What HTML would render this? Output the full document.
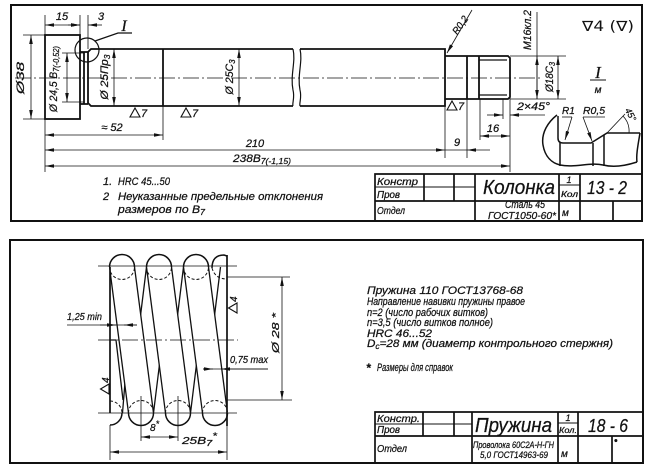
<!DOCTYPE html>
<html><head><meta charset="utf-8">
<style>
html,body{margin:0;padding:0;background:#fff;}
svg{display:block;}
text{font-family:"Liberation Sans",sans-serif;font-style:italic;fill:#111;stroke:#111;stroke-width:0.25;}
</style></head><body>
<svg width="652" height="470" viewBox="0 0 652 470" xmlns="http://www.w3.org/2000/svg">
<defs>
<marker id="a" viewBox="0 0 10 4" refX="10" refY="2" markerWidth="9" markerHeight="3.6" markerUnits="userSpaceOnUse" orient="auto-start-reverse"><path d="M0,0L10,2L0,4z" fill="#111"/></marker>
<clipPath id="sc"><rect x="110" y="250" width="117" height="180"/></clipPath>
</defs>
<rect width="652" height="470" fill="#fff"/>

<!-- frames -->
<g fill="none" stroke="#111" stroke-width="2">
<rect x="11" y="5" width="631" height="216"/>
<rect x="10" y="240" width="633" height="223"/>
</g>

<!-- ===== SHAFT ===== -->
<g fill="none" stroke="#111" stroke-width="1.8">
<rect x="45" y="35" width="35" height="84"/>
<path d="M80,52H88M80,104H88M84,52V104M88,52V104"/>
<path d="M88,52L91,49H293M300,49H445V106H300M293,106H91L88,103"/>
<path d="M445,56H508L510,58V97L508,99H445M467,56V99M479,56V99"/>
<path d="M163,49V106"/>
</g>
<g fill="none" stroke="#111" stroke-width="1.2">
<path d="M293,49C296,62 290,75 293,90C295,98 292,103 293,106"/>
<path d="M300,49C303,62 297,75 300,90C302,98 299,103 300,106"/>
<path d="M479,60H507M479,95H507"/>
<circle cx="87" cy="50" r="12"/>
<path d="M95,41L118,33H132"/>
</g>
<line x1="15" y1="78" x2="540" y2="78" stroke="#111" stroke-width="0.8" stroke-dasharray="16,3,2,3"/>

<!-- dims top -->
<g fill="none" stroke="#111" stroke-width="0.8">
<path d="M23,35H45M23,119H45M45,15V35M45,119V172M80,15V35M88,15V49M62,53H84M62,102H84"/>
<path d="M163,106V140M445,106V158M467,99V158M510,97V172M480,99V140M503,99V119M510,56H566M510,99H566M445,150H467M537,12V99"/>
<line x1="31" y1="35" x2="31" y2="119" marker-start="url(#a)" marker-end="url(#a)"/>
<line x1="45" y1="25" x2="80" y2="25" marker-start="url(#a)" marker-end="url(#a)"/>
<line x1="68" y1="25" x2="80" y2="25" marker-end="url(#a)"/>
<line x1="102" y1="25" x2="88" y2="25" marker-end="url(#a)"/>
<line x1="67" y1="53" x2="67" y2="102" marker-start="url(#a)" marker-end="url(#a)"/>
<line x1="114" y1="49" x2="114" y2="106" marker-start="url(#a)" marker-end="url(#a)"/>
<line x1="239" y1="49" x2="239" y2="106" marker-start="url(#a)" marker-end="url(#a)"/>
<line x1="45" y1="135" x2="163" y2="135" marker-start="url(#a)" marker-end="url(#a)"/>
<line x1="45" y1="150" x2="445" y2="150" marker-start="url(#a)" marker-end="url(#a)"/>
<line x1="490" y1="150" x2="467" y2="150" marker-end="url(#a)"/>
<line x1="45" y1="166" x2="510" y2="166" marker-start="url(#a)" marker-end="url(#a)"/>
<line x1="480" y1="136" x2="510" y2="136" marker-start="url(#a)" marker-end="url(#a)"/>
<line x1="487" y1="115" x2="503" y2="115" marker-end="url(#a)"/>
<line x1="545" y1="115" x2="510" y2="115" marker-end="url(#a)"/>
<line x1="472" y1="10" x2="447" y2="53" marker-end="url(#a)"/>
<line x1="537" y1="77" x2="537" y2="56" marker-end="url(#a)"/>
<line x1="537" y1="77" x2="537" y2="99" marker-end="url(#a)"/>
<line x1="558" y1="56" x2="558" y2="99" marker-start="url(#a)" marker-end="url(#a)"/>
</g>

<!-- surface marks -->
<g fill="none" stroke="#111" stroke-width="1.1">
<path d="M130,117H140L135,108Z"/>
<path d="M181,117H191L186,108Z"/>
<path d="M447,110H457L452,101Z"/>
</g>
<g font-size="11">
<text x="141" y="117">7</text>
<text x="192" y="117">7</text>
<text x="458" y="110">7</text>
</g>

<!-- top texts -->
<g font-size="11">
<text x="62" y="20" text-anchor="middle">15</text>
<text x="101" y="20" text-anchor="middle">3</text>
<text transform="translate(24,78) rotate(-90)" text-anchor="middle" textLength="32" lengthAdjust="spacingAndGlyphs">Ø38</text>
<text transform="translate(57,79) rotate(-90)" text-anchor="middle" textLength="66" lengthAdjust="spacingAndGlyphs">Ø 24,5 B<tspan font-size="8" dy="2">7(-0,52)</tspan></text>
<text transform="translate(108,77) rotate(-90)" text-anchor="middle" textLength="45" lengthAdjust="spacingAndGlyphs">Ø 25Пр<tspan font-size="8" dy="2">3</tspan></text>
<text transform="translate(233,77) rotate(-90)" text-anchor="middle" textLength="35" lengthAdjust="spacingAndGlyphs">Ø 25С<tspan font-size="8" dy="2">3</tspan></text>
<text transform="translate(531,30) rotate(-90)" text-anchor="middle" textLength="40" lengthAdjust="spacingAndGlyphs">M16кл.2</text>
<text transform="translate(553,77) rotate(-90)" text-anchor="middle" textLength="30" lengthAdjust="spacingAndGlyphs">Ø18С<tspan font-size="8" dy="2">3</tspan></text>
<text transform="translate(463,27) rotate(-55)" text-anchor="middle" font-size="10" textLength="20" lengthAdjust="spacingAndGlyphs">R0,2</text>
<text x="112" y="131" text-anchor="middle">≈ 52</text>
<text x="255" y="147" text-anchor="middle">210</text>
<text x="233" y="162" textLength="58" lengthAdjust="spacingAndGlyphs">238B<tspan font-size="8" dy="2">7(-1,15)</tspan></text>
<text x="457" y="146" text-anchor="middle">9</text>
<text x="493" y="132" text-anchor="middle">16</text>
<text x="517" y="110" textLength="33" lengthAdjust="spacingAndGlyphs">2×45°</text>
</g>
<text x="124" y="31" font-size="16" text-anchor="middle" style="font-family:'Liberation Serif',serif">I</text>
<text x="582" y="31" font-size="14" textLength="52" lengthAdjust="spacingAndGlyphs" style="font-family:'DejaVu Sans',sans-serif;font-style:normal;stroke-width:0">∇4 (∇)</text>
<text x="598" y="78" font-size="17" text-anchor="middle" style="font-family:'Liberation Serif',serif">I</text>
<line x1="590" y1="80" x2="606" y2="80" stroke="#111" stroke-width="1"/>
<text x="598" y="93" font-size="10" text-anchor="middle">м</text>

<!-- detail I -->
<g fill="none" stroke="#111" stroke-width="1.5">
<path d="M557,115C548,122 541,133 543,145C545,157 552,163 560,165C575,168 590,162 603,165C615,168 628,165 637,162"/>
<path d="M640,133C638,145 636,155 637,162"/>
<path d="M558,116V138Q558,143 563,143H591L607,133H640"/>
<path d="M560,143V166M593,143V166M604,135V166"/>
</g>
<g fill="none" stroke="#111" stroke-width="0.8">
<path d="M562,117H572"/>
<line x1="572" y1="117" x2="565" y2="140" marker-end="url(#a)"/>
<path d="M583,117H605"/>
<line x1="583" y1="117" x2="592" y2="141" marker-end="url(#a)"/>
<path d="M607,133L625,114"/>
<path d="M623,116A22,22 0 0 1 629,133"/>
</g>
<text x="562" y="114" font-size="10">R1</text>
<text x="583" y="114" font-size="10" textLength="22" lengthAdjust="spacingAndGlyphs">R0,5</text>
<text transform="translate(628,116) rotate(62)" font-size="9" text-anchor="middle">45°</text>

<!-- notes top -->
<g font-size="11">
<text x="103" y="185">1.</text>
<text x="118" y="185" textLength="52" lengthAdjust="spacingAndGlyphs">HRC 45...50</text>
<text x="103" y="200">2</text>
<text x="118" y="200" textLength="205" lengthAdjust="spacingAndGlyphs">Неуказанные предельные отклонения</text>
<text x="118" y="213" textLength="87" lengthAdjust="spacingAndGlyphs">размеров по B<tspan font-size="8" dy="2">7</tspan></text>
</g>

<!-- title block top -->
<g fill="none" stroke="#111" stroke-width="1.7">
<path d="M375,221V174H642M375,201H642M424,174V201M454,174V201M475,174V221M559,174V221M580,174V221M613,201V221"/>
</g>
<g fill="none" stroke="#111" stroke-width="1">
<path d="M375,187H475M559,185H580"/>
</g>
<text x="377" y="185" font-size="10" textLength="41" lengthAdjust="spacingAndGlyphs">Констр</text>
<text x="377" y="198" font-size="10" textLength="23" lengthAdjust="spacingAndGlyphs">Пров</text>
<text x="377" y="214" font-size="10" textLength="28" lengthAdjust="spacingAndGlyphs">Отдел</text>
<text x="483" y="194" font-size="20" textLength="72" lengthAdjust="spacingAndGlyphs">Колонка</text>
<text x="569" y="183" font-size="9" text-anchor="middle">1</text>
<text x="561" y="197" font-size="8" textLength="17" lengthAdjust="spacingAndGlyphs">Кол</text>
<text x="587" y="194" font-size="18" textLength="40" lengthAdjust="spacingAndGlyphs">13 - 2</text>
<text x="505" y="208" font-size="11" textLength="40" lengthAdjust="spacingAndGlyphs">Сталь 45</text>
<text x="488" y="219" font-size="10.5" textLength="68" lengthAdjust="spacingAndGlyphs">ГОСТ1050-60*</text>
<text x="562" y="216" font-size="10">м</text>

<!-- ===== SPRING ===== -->
<g clip-path="url(#sc)" fill="none" stroke="#111" stroke-width="1.3">
<path d="M97.5,413L109.5,267M122.5,413L134.5,267M128.5,413L146.5,267M153.5,413L171.5,267M165.5,413L183.5,267M190.5,413L208.5,267M202.5,413L220.5,267M227.5,413L245.5,267"/>
<path fill="#fff" stroke="none" d="M109.5,267H134.5L153.5,413H128.5ZM146.5,267H171.5L190.5,413H165.5ZM183.5,267H208.5L227.5,413H202.5Z"/>
<path d="M109.5,267L128.5,413M134.5,267L153.5,413M146.5,267L165.5,413M171.5,267L190.5,413M183.5,267L202.5,413M208.5,267L227.5,413"/>
<path d="M110,340H116L123,400"/>
</g>
<g fill="none" stroke="#111" stroke-width="1.5">
<path d="M109.5,267A12.5,12.5 0 0 1 134.5,267M146.5,267A12.5,12.5 0 0 1 171.5,267M183.5,267A12.5,12.5 0 0 1 208.5,267"/>
<path d="M128.5,413A12.5,12.5 0 0 0 153.5,413M165.5,413A12.5,12.5 0 0 0 190.5,413M202.5,413A12.5,12.5 0 0 0 227.5,413"/>
<path d="M122,413A12,12 0 0 1 110,425"/>
<path d="M212,268Q212,255 224,255L227,256"/>
<path d="M110,267V413M227,255V426" stroke-width="1.7"/>
</g>
<g fill="none" stroke="#111" stroke-width="1" stroke-dasharray="3,2">
<path d="M109.5,267A12.5,12.5 0 0 0 134.5,267M146.5,267A12.5,12.5 0 0 0 171.5,267M183.5,267A12.5,12.5 0 0 0 208.5,267"/>
<path d="M128.5,413A12.5,12.5 0 0 1 153.5,413M165.5,413A12.5,12.5 0 0 1 190.5,413M202.5,413A12.5,12.5 0 0 1 227.5,413"/>
<path d="M110,401A12,12 0 0 1 122,413"/>
<path d="M212,268Q215,279 227,279"/>
</g>
<g fill="none" stroke="#111" stroke-width="0.8">
<path d="M98,266H237M98,413H237"/>
<line x1="98" y1="340" x2="238" y2="340" stroke-dasharray="16,3,2,3"/>
<path d="M227,426V460M110,425V460M141,396V441M178,396V441M227,277H290M227,400H292M67,325H137M203,369H268"/>
<line x1="100" y1="325" x2="116" y2="325" marker-end="url(#a)"/>
<line x1="137" y1="325" x2="124" y2="325" marker-end="url(#a)"/>
<line x1="203" y1="369" x2="213" y2="369" marker-end="url(#a)"/>
<line x1="268" y1="369" x2="221" y2="369" marker-end="url(#a)"/>
<line x1="282" y1="277" x2="282" y2="400" marker-start="url(#a)" marker-end="url(#a)"/>
<line x1="141" y1="437" x2="178" y2="437" marker-start="url(#a)" marker-end="url(#a)"/>
<line x1="110" y1="452" x2="227" y2="452" marker-start="url(#a)" marker-end="url(#a)"/>
</g>
<!-- roughness marks spring -->
<g transform="translate(237,313) rotate(-90)">
<path d="M0,0H10L5,-8.5Z" fill="none" stroke="#111" stroke-width="1.1"/>
<text x="11" y="0" font-size="10">4</text>
</g>
<g transform="translate(109,394) rotate(-90)">
<path d="M0,0H10L5,-8.5Z" fill="none" stroke="#111" stroke-width="1.1"/>
<text x="11" y="0" font-size="10">4</text>
</g>
<g font-size="10">
<text x="67" y="320" textLength="35" lengthAdjust="spacingAndGlyphs">1,25 min</text>
<text x="230" y="363" textLength="38" lengthAdjust="spacingAndGlyphs">0,75 max</text>
<text x="150" y="431">8<tspan font-size="9" dy="-4">*</tspan></text>
<text x="182" y="444" textLength="35" lengthAdjust="spacingAndGlyphs">25B<tspan font-size="8" dy="2">7</tspan><tspan font-size="9" dy="-7">*</tspan></text>
<text transform="translate(279,333) rotate(-90)" text-anchor="middle" textLength="40" lengthAdjust="spacingAndGlyphs">Ø 28 *</text>
</g>

<!-- notes bottom -->
<g font-size="11">
<text x="367" y="294" textLength="156" lengthAdjust="spacingAndGlyphs">Пружина 110 ГОСТ13768-68</text>
<text x="367" y="305" textLength="158" lengthAdjust="spacingAndGlyphs">Направление навивки пружины правое</text>
<text x="367" y="316" textLength="121" lengthAdjust="spacingAndGlyphs">n=2 (число рабочих витков)</text>
<text x="367" y="326" textLength="126" lengthAdjust="spacingAndGlyphs">n=3,5 (число витков полное)</text>
<text x="367" y="337" textLength="65" lengthAdjust="spacingAndGlyphs">HRC 46...52</text>
<text x="367" y="347" textLength="246" lengthAdjust="spacingAndGlyphs">D<tspan font-size="8" dy="2">c</tspan><tspan dy="-2">=28 мм (диаметр контрольного стержня)</tspan></text>
<text x="366" y="372" font-size="12" font-weight="bold">*</text>
<text x="377" y="371" textLength="76" lengthAdjust="spacingAndGlyphs">Размеры для справок</text>
</g>

<!-- title block bottom -->
<g fill="none" stroke="#111" stroke-width="1.7">
<path d="M375,463V412H643M375,436H643M423,412V436M454,412V436M472,412V463M558,412V463M578,412V463M612,436V463"/>
</g>
<g fill="none" stroke="#111" stroke-width="1">
<path d="M375,424H472M558,423H578"/>
</g>
<text x="377" y="422" font-size="10" textLength="43" lengthAdjust="spacingAndGlyphs">Констр.</text>
<text x="377" y="433" font-size="10" textLength="23" lengthAdjust="spacingAndGlyphs">Пров</text>
<text x="377" y="452" font-size="10" textLength="30" lengthAdjust="spacingAndGlyphs">Отдел</text>
<text x="475" y="432" font-size="20" textLength="77" lengthAdjust="spacingAndGlyphs">Пружина</text>
<text x="568" y="421" font-size="9" text-anchor="middle">1</text>
<text x="559" y="433" font-size="8" textLength="18" lengthAdjust="spacingAndGlyphs">Кол.</text>
<text x="588" y="432" font-size="18" textLength="40" lengthAdjust="spacingAndGlyphs">18 - 6</text>
<text x="473" y="448" font-size="9.5" textLength="81" lengthAdjust="spacingAndGlyphs">Проволока 60С2А-Н-ГН</text>
<text x="480" y="458" font-size="9.5" textLength="68" lengthAdjust="spacingAndGlyphs">5,0 ГОСТ14963-69</text>
<text x="561" y="457" font-size="10">м</text>
<text x="614" y="444" font-size="10" font-weight="bold">•</text>
</svg>
</body></html>
